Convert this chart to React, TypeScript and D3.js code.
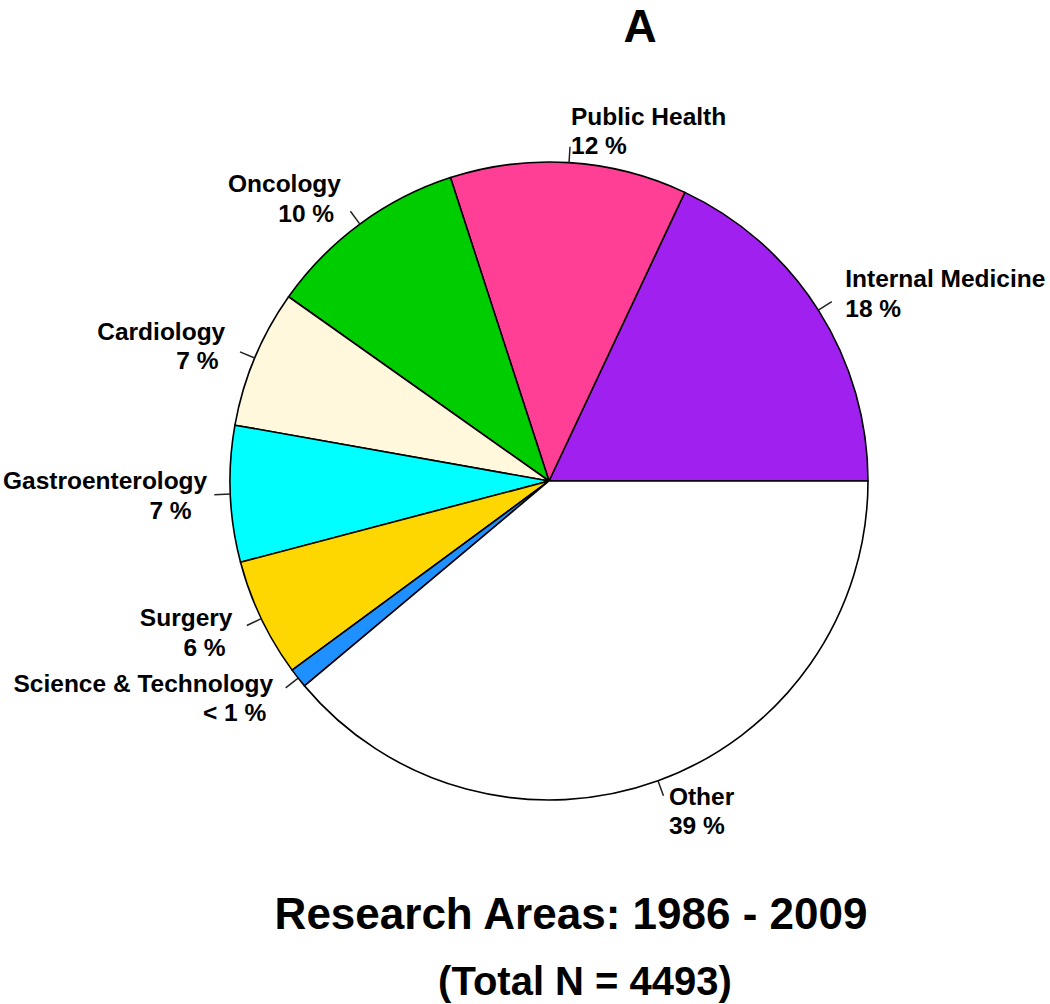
import React from 'react';
import * as d3 from 'd3';

// research areas, counter-clockwise from 3 o'clock like R's pie()
const areas = [
  'Internal Medicine',
  'Public Health',
  'Oncology',
  'Cardiology',
  'Gastroenterology',
  'Surgery',
  'Science & Technology',
  'Other',
];
const shares = [18.0, 12.0, 10.2, 7.0, 6.9, 6.0, 1.0, 38.9];
const pctLabels = ['18 %', '12 %', '10 %', '7 %', '7 %', '6 %', '< 1 %', '39 %'];
const fills = ['#A020F0', '#FF3E96', '#00CD00', '#FFF8DC', '#00FFFF', '#FFD700', '#1E90FF', '#FFFFFF'];

const panelLetter = 'A';
const titleText = 'Research Areas: 1986 - 2009';
const subtitleText = '(Total N = 4493)';

const W = 1050;
const H = 1004;
const FONT = '"Liberation Sans", Arial, Helvetica, sans-serif';

// width of a string in the label font, so long labels stay inside the page
function textWidth(s: string, fs: number) {
  const ctx = document.createElement('canvas').getContext('2d');
  if (!ctx) return s.length * fs * 0.55;
  ctx.font = `bold ${fs}px ${FONT}`;
  return ctx.measureText(s).width;
}

export default function App() {
  const cx = 549;
  const cy = 481;
  const r = 319;

  // d3 angles are clockwise from 12 o'clock, so go backwards from pi/2
  const pie = d3.pie<number>()
    .sort(null)
    .startAngle(Math.PI / 2)
    .endAngle(Math.PI / 2 - 2 * Math.PI);
  const arcs = pie(shares);
  const arc = d3.arc<d3.PieArcDatum<number>>().innerRadius(0).outerRadius(r);

  const fs = 24.5;
  const lh = 29.5;
  const capH = 0.716 * fs;
  const spaceW = 0.278 * fs;

  return (
    <svg width={W} height={H} style={{ position: 'absolute', left: 0, top: 0, background: '#fff' }}>
      <g transform={`translate(${cx},${cy})`}>
        {arcs.map((d, i) => (
          <path key={areas[i]} d={arc(d) || ''} fill={fills[i]} stroke="#000" strokeWidth={1.6} strokeLinejoin="round" />
        ))}
        {arcs.map((d, i) => {
          const a = (d.startAngle + d.endAngle) / 2;
          const ux = Math.sin(a);
          const uy = -Math.cos(a);
          let lx = 1.1 * r * ux;
          const ly = 1.1 * r * uy;
          const left = ux < 0;
          if (left) {
            const w = textWidth(areas[i], fs);
            lx = Math.max(lx, 3 - cx + w);
          }
          const anchor = left ? 'end' : 'start';
          const b1 = ly - lh / 2 + capH / 2;
          return (
            <g key={'lab' + i}>
              <line x1={r * ux} y1={r * uy} x2={1.05 * r * ux} y2={1.05 * r * uy} stroke="#222" strokeWidth={1.5} />
              <text x={lx} y={b1} textAnchor={anchor} fontFamily={FONT} fontWeight="bold" fontSize={fs} fill="#000">
                {areas[i]}
              </text>
              <text x={left ? 1.1 * r * ux - spaceW : lx} y={b1 + lh} textAnchor={anchor} fontFamily={FONT} fontWeight="bold" fontSize={fs} fill="#000">
                {pctLabels[i]}
              </text>
            </g>
          );
        })}
      </g>
      <text x={640} y={42} textAnchor="middle" fontFamily={FONT} fontWeight="bold" fontSize={46}>{panelLetter}</text>
      <text x={571} y={929} textAnchor="middle" fontFamily={FONT} fontWeight="bold" fontSize={44}>{titleText}</text>
      <text x={585} y={995} textAnchor="middle" fontFamily={FONT} fontWeight="bold" fontSize={40}>{subtitleText}</text>
    </svg>
  );
}
